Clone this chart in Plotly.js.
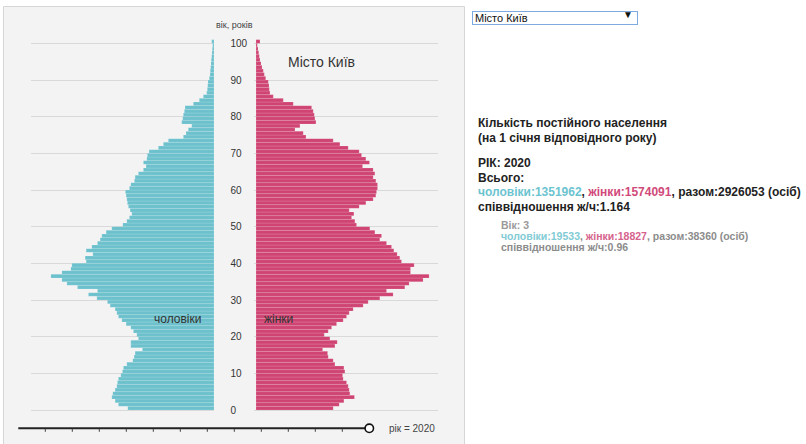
<!DOCTYPE html>
<html>
<head>
<meta charset="utf-8">
<script src="https://cdn.plot.ly/plotly-3.0.1.min.js"></script>
<style>
html,body{margin:0;padding:0;background:#fff;}
#chart{position:absolute;left:0;top:0;width:806px;height:444px;}
#selwrap{position:absolute;left:472px;top:8px;width:166px;height:14px;}
#sel{-webkit-appearance:none;appearance:none;width:166px;height:14px;margin:0;padding:0 0 0 2px;border:1px solid #7ea9e1;border-radius:0;background:#fff;font:11px Arial,"Liberation Sans",sans-serif;color:#111;box-sizing:border-box;line-height:12px;}
#arr{position:absolute;right:5px;top:0px;font:10px Arial,"Liberation Sans",sans-serif;color:#111;pointer-events:none;line-height:14px;}
</style>
</head>
<body>
<div id="chart"></div>
<div id="selwrap"><select id="sel"><option>Місто Київ</option></select><span id="arr">▼</span></div>
<script>
// ---- data (year 2020, Kyiv) ----
const ages = [0,1,2,3,4,5,6,7,8,9,10,11,12,13,14,15,16,17,18,19,20,21,22,23,24,25,26,27,28,29,30,31,32,33,34,35,36,37,38,39,40,41,42,43,44,45,46,47,48,49,50,51,52,53,54,55,56,57,58,59,60,61,62,63,64,65,66,67,68,69,70,71,72,73,74,75,76,77,78,79,80,81,82,83,84,85,86,87,88,89,90,91,92,93,94,95,96,97,98,99,100];
const men = [16480,18280,18910,19533,19350,18910,18580,18470,18280,17820,
 17510,17320,16670,15530,15280,15090,13690,15910,15910,14460,
 14760,15410,15910,16810,17630,18280,18580,18910,19860,20380,
 22400,24010,22290,26110,28130,29090,31190,29090,27370,27180,
 24450,24640,23170,24450,23360,22290,21770,21450,20630,19540,
 17440,16670,16180,15720,16040,16370,16560,16670,16810,16940,
 16180,15910,15220,15090,14460,13500,12990,13500,12850,12740,
 12420,10640,9680,8730,5860,5350,4910,4260,6170,5980,
 5860,5670,5540,3950,2810,2040,1390,1280,1200,1150,
 900,760,710,630,570,520,440,380,320,250,440];
const women = [14760,15910,16810,18827,17950,17820,17630,17320,16670,16560,
 17000,16810,15090,14760,13810,13690,12740,15090,15530,14130,
 13050,13810,14460,15410,16670,17320,17820,18580,20490,21450,
 23680,26220,24960,28460,29280,31950,33100,29550,29550,30240,
 27830,27500,26990,26360,25920,24960,23680,24010,22730,21770,
 19230,18910,18280,18720,17820,19730,21010,22400,22920,23050,
 23240,23240,22920,22400,22730,22400,20380,21700,21010,20190,
 19730,17630,16040,14760,9550,9030,7450,8400,11460,11270,
 11140,10940,10640,7120,5210,3300,2670,2540,2480,2350,
 1850,1590,1390,1150,960,760,630,520,380,250,760];
const ageTicks = [0,10,20,30,40,50,60,70,80,90,100];
const years = [2007,2008,2009,2010,2011,2012,2013,2014,2015,2016,2017,2018,2019,2020];
const currentYear = 2020;
const region = "Місто Київ";
const totalMen = 1351962, totalWomen = 1574091;
const selAge = 3;

// ---- helpers ----
const W = 806, H = 444;
const px = v => v / W;
const py = v => 1 - v / H;
const FONT = 'Arial, "Liberation Sans", sans-serif';
const C_MEN = '#6cc1cd', C_WOM = '#cf4472';

const traces = [
  {type:'bar', orientation:'h', name:'чоловіки', x: men, y: ages, xaxis:'x', yaxis:'y',
   width:1, offset:0, marker:{color:C_MEN, line:{width:0.4, color:'rgba(255,255,255,0.35)'}}, hoverinfo:'none'},
  {type:'bar', orientation:'h', name:'жінки', x: women, y: ages, xaxis:'x2', yaxis:'y',
   width:1, offset:0, marker:{color:C_WOM, line:{width:0.4, color:'rgba(255,255,255,0.35)'}}, hoverinfo:'none'}
];

const fmtRatio = (a,b,d) => (b/a).toFixed(d);
const tM = totalMen, tW = totalWomen;
const aM = men[selAge], aW = women[selAge];

const ann = [];
function A(x, y, text, size, color, anchor){
  ann.push({xref:'paper', yref:'paper', x:px(x), y:py(y), text:text, showarrow:false,
    xanchor:anchor||'left', yanchor:'middle', font:{family:FONT, size:size, color:color}});
}
A(234, 25, 'вік, років', 9, '#444', 'center');
A(321, 62, region, 14, '#333', 'center');
A(177.5, 318.5, 'чоловіки', 12, '#333', 'center');
A(278.7, 318.5, 'жінки', 12, '#333', 'center');
A(387, 428, 'рік = ' + currentYear, 10, '#444', 'left');

A(476, 123, '<b>Кількість постійного населення</b>', 12, '#222');
A(476, 137.5, '<b>(на 1 січня відповідного року)</b>', 12, '#222');
A(476, 163.5, '<b>РІК: ' + currentYear + '</b>', 12, '#222');
A(476, 178, '<b>Всього:</b>', 12, '#222');
A(476, 192, '<b><span style="color:#6cc4d0">чоловіки:' + tM + '</span>, <span style="color:#d1497a">жінки:' + tW + '</span>, разом:' + (tM+tW) + ' (осіб)</b>', 12, '#222');
A(476, 206.5, '<b>співвідношення ж/ч:' + fmtRatio(tM,tW,3) + '</b>', 12, '#222');

A(499, 225, '<b>Вік: ' + selAge + '</b>', 10.5, '#9a9a9a');
A(499, 236, '<b><span style="color:#82cbd5">чоловіки:' + aM + '</span>, <span style="color:#d6638c">жінки:' + aW + '</span>, разом:' + (aM+aW) + ' (осіб)</b>', 10.5, '#8c8c8c');
A(499, 247, '<b>співвідношення ж/ч:' + fmtRatio(aM,aW,2) + '</b>', 10.5, '#8c8c8c');

// shapes: panel + slider
const shapes = [
  {type:'rect', xref:'paper', yref:'paper', x0:px(3.5), x1:px(464.5), y0:-0.02, y1:py(6.5),
   fillcolor:'#f3f3f3', line:{color:'#d6d6d6', width:1}, layer:'below'}
];
const sx0 = 18.3, sx1 = 369.3, sy = 428.3;
const sPos = i => sx0 + (sx1 - sx0) * i / (years.length - 1);
shapes.push({type:'line', xref:'paper', yref:'paper', x0:px(sx0), x1:px(sx1), y0:py(sy), y1:py(sy),
  line:{color:'#222', width:2}, layer:'above'});
years.forEach((yr, i) => {
  if (i === 0 || i === years.length - 1) return;
  shapes.push({type:'line', xref:'paper', yref:'paper', x0:px(sPos(i)), x1:px(sPos(i)),
    y0:py(sy+0.5), y1:py(sy+3.5), line:{color:'#444', width:1}, layer:'above'});
});
const hx = sPos(years.indexOf(currentYear));
shapes.push({type:'circle', xref:'paper', yref:'paper', x0:px(hx-4.2), x1:px(hx+4.2),
  y0:py(sy+4.2), y1:py(sy-4.2), fillcolor:'#fff', line:{color:'#111', width:1.6}, layer:'above'});

const R = 35000;
const layout = {
  width: W, height: H,
  margin:{l:0, r:0, t:0, b:0},
  paper_bgcolor:'#fff', plot_bgcolor:'rgba(0,0,0,0)',
  showlegend:false, barmode:'overlay', bargap:0,
  font:{family:FONT},
  xaxis:{domain:[px(31), px(214)], range:[R, 0], anchor:'y', showgrid:false, zeroline:false,
         showline:false, showticklabels:false, ticks:'', fixedrange:true},
  xaxis2:{domain:[px(254), px(438)], range:[-2*R/183, 182*R/183], anchor:'y', showgrid:false, zeroline:false,
         showline:false, showticklabels:false, ticks:'', fixedrange:true},
  yaxis:{domain:[1-414/H, 1-36/H], range:[-1.09, 102], tickmode:'array', tickvals:ageTicks,
         anchor:'free', position:px(229.5), side:'right', showline:false, ticks:'', zeroline:false,
         showgrid:true, gridcolor:'#d9d9d9', gridwidth:1,
         tickfont:{size:10, color:'#333', family:FONT}, fixedrange:true},
  annotations: ann,
  shapes: shapes
};

Plotly.newPlot('chart', traces, layout, {displayModeBar:false, staticPlot:true});
</script>
</body>
</html>
